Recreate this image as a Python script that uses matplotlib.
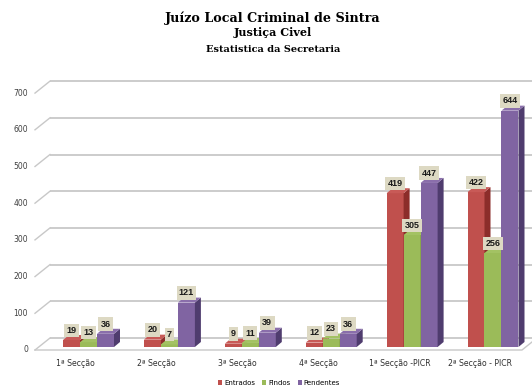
import matplotlib
matplotlib.use("Agg")
import matplotlib.pyplot as plt
from matplotlib.patches import Polygon, Patch
import numpy as np

categories = ["1ª Secção", "2ª Secção", "3ª Secção", "4ª Secção", "1ª Secção -PICR", "2ª Secção - PICR"]
series_names = ["Entrados", "Findos", "Pendentes"]
entrados = [19, 20, 9, 12, 419, 422]
findos = [13, 7, 11, 23, 305, 256]
pendentes = [36, 121, 39, 36, 447, 644]
yticks = [0, 100, 200, 300, 400, 500, 600, 700]

front_cols = ["#C0504D", "#9BBB59", "#8064A2"]
side_cols = ["#8C2D2A", "#6E8A36", "#4F3C6E"]
top_cols = ["#C85A57", "#A3C263", "#8A6EAB"]

W, H = 532, 390
fig = plt.figure(figsize=(W / 100, H / 100), dpi=100)
ax = fig.add_axes([0, 0, 1, 1])
ax.axis("off")

# pixel <-> data mapping
PX = 80.9      # px per category
PY = 0.367     # px per value unit
X0 = 88.5      # pixel x of first group centre
Y0 = 347.0     # pixel y (from top) of bar base
def dx(px):
    return px / PX
def dy(py):
    return py / PY
ax.set_xlim(-X0 / PX, (W - X0) / PX)
ax.set_ylim(-(H - Y0) / PY, Y0 / PY)

grid_c = "#C8C8C8"
# wall geometry
fx0, bx0 = dx(35 - X0), dx(50 - X0)
bx1 = dx(537 - X0)
fx1 = dx(522 - X0)
f_off, b_off = -dy(3), dy(9)
for v in yticks:
    ax.plot([bx0, bx1], [v + b_off, v + b_off], color=grid_c, lw=1.3, zorder=1, solid_capstyle="butt")
    ax.plot([fx0, bx0], [v + f_off, v + b_off], color=grid_c, lw=1.0, zorder=1)
    ax.text(dx(28 - X0), v + f_off, str(v), ha="right", va="center", fontsize=5.5, color="#404040",
            family="DejaVu Sans")
ax.plot([fx0, fx1, bx1], [f_off, f_off, b_off], color=grid_c, lw=1.0, zorder=1)

bw = dx(17)
ddx, ddy = dx(6), dy(5)
data = [entrados, findos, pendentes]
x = np.arange(len(categories))
for s, vals in enumerate(data):
    xs = x + (s - 1) * bw
    z = 3 + s
    ax.bar(xs, vals, width=bw, color=front_cols[s], zorder=z, linewidth=0, label=series_names[s])
    for xi, v in zip(xs, vals):
        xl, xr = xi - bw / 2, xi + bw / 2
        ax.add_patch(Polygon([(xr, 0), (xr + ddx, ddy), (xr + ddx, v + ddy), (xr, v)],
                             closed=True, fc=side_cols[s], ec="none", zorder=z + 0.1))
        ax.add_patch(Polygon([(xl, v), (xr, v), (xr + ddx, v + ddy), (xl + ddx, v + ddy)],
                             closed=True, fc=top_cols[s], ec="none", zorder=z + 0.2))
        ax.annotate(str(v), (xi, v), xytext=(0, 7), textcoords="offset points",
                    ha="center", va="center", fontsize=6.5, fontweight="bold", color="#1a1a1a",
                    family="Liberation Sans",
                    bbox=dict(boxstyle="square,pad=0.25", fc="#DDD9C3", ec="none"), zorder=10)

for i, c in enumerate(categories):
    ax.text(i - 0.157, -dy(16), c, ha="center", va="center", fontsize=5.6, color="#303030",
            family="DejaVu Sans")

handles = [Patch(fc=front_cols[s], ec="none") for s in range(3)]
fig.legend(handles, series_names, loc="center", bbox_to_anchor=(279 / W, 1 - 383 / H), ncol=3,
           frameon=False, fontsize=5, handlelength=0.6, handleheight=0.6, handletextpad=0.3,
           columnspacing=1.0)

fig.text(273 / W, 1 - 18 / H, "Juízo Local Criminal de Sintra", ha="center", va="center",
         fontsize=9.2, fontweight="bold", family="DejaVu Serif")
fig.text(273 / W, 1 - 33 / H, "Justiça Civel", ha="center", va="center",
         fontsize=8, fontweight="bold", family="DejaVu Serif")
fig.text(273 / W, 1 - 49 / H, "Estatistica da Secretaria", ha="center", va="center",
         fontsize=7, fontweight="bold", family="DejaVu Serif")

fig.savefig("out.png", dpi=100)
